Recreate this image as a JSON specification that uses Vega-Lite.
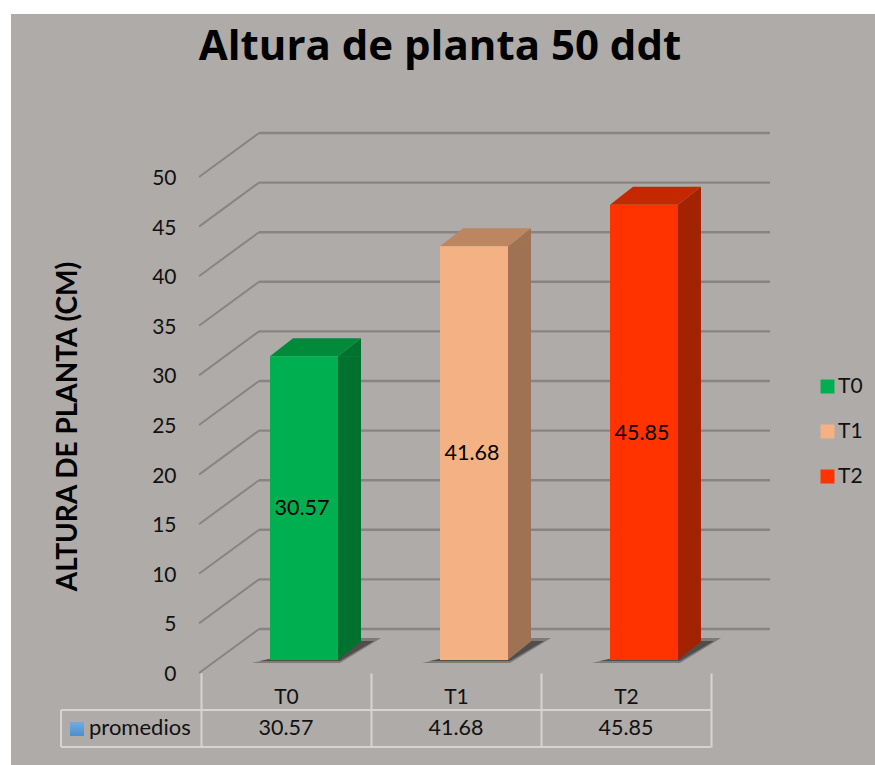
{
"$schema":"https://vega.github.io/schema/vega-lite/v6.json",
"width":510,"height":496,
"autosize":{"type":"none"},
"padding":{"left":201,"top":177,"right":164,"bottom":92},
"background":"#FFFFFF",
"title":{"text":"Altura de planta 50  ddt","anchor":"middle","dx":-16,"offset":-55,"font":"Open Sans","fontSize":42,"fontWeight":"bold","color":"#000000"},
"config":{"view":{"stroke":null},"font":"Lato"},
"datasets":{
"bars":[{"cat":"T0","promedio":30.57},{"cat":"T1","promedio":41.68},{"cat":"T2","promedio":45.85}],
"ticks":[{"tick":0},{"tick":5},{"tick":10},{"tick":15},{"tick":20},{"tick":25},{"tick":30},{"tick":35},{"tick":40},{"tick":45},{"tick":50}],
"serie":[{"serie":"promedios"}]
},
"resolve":{"scale":{"color":"independent"}},
"layer":[
{"data":{"name":"serie"},"mark":{"type":"rect","fill":"#AFABA9","xOffset":-275,"x2Offset":249,"yOffset":92,"y2Offset":-163},
 "encoding":{"x":{"datum":"T0","type":"nominal","scale":{"domain":["T0","T1","T2"],"paddingInner":0,"paddingOuter":0},
   "axis":{"title":null,"domain":false,"labelAngle":0,"tickBand":"extent","tickSize":74,"tickWidth":2,"tickColor":"#D6D4D2","labelPadding":-50,"labelBaseline":"middle","labelFontSize":21,"labelColor":"#111111","labelFont":"Lato","grid":false,"zindex":1}},
  "x2":{"datum":"T2"},
  "y":{"datum":0,"type":"quantitative","scale":{"domain":[0,50],"nice":false,"zero":false},
   "axis":{"title":"ALTURA DE PLANTA (CM)","values":[0,5,10,15,20,25,30,35,40,45,50],"domain":false,"ticks":false,"grid":false,"labelPadding":25,"labelOffset":1.5,"labelFontSize":21,"labelColor":"#111111","labelFont":"Lato","titleFont":"Lato","titleFontSize":28,"titleFontWeight":"bold","titleColor":"#000000","titleAngle":-90,"titleX":-133,"titleY":249,"titleBaseline":"middle","zindex":1}},
  "y2":{"datum":50}}},
{"data":{"name":"ticks"},"mark":{"type":"rule","color":"#878583","strokeWidth":2,"xOffset":-87,"x2Offset":-27,"y2Offset":-44},
 "encoding":{"x":{"datum":"T0","type":"nominal"},"x2":{"datum":"T0"},"y":{"field":"tick","type":"quantitative"},"y2":{"field":"tick"}}},
{"data":{"name":"ticks"},"mark":{"type":"rule","color":"#878583","strokeWidth":2.4,"xOffset":-27,"x2Offset":144,"yOffset":-44},
 "encoding":{"x":{"datum":"T0","type":"nominal"},"x2":{"datum":"T2"},"y":{"field":"tick","type":"quantitative"}}},
{"data":{"name":"bars"},"mark":{"type":"point","filled":true,"opacity":1,"size":4,"fill":"#7E7B79","shape":"M-52,3L36,3L77,-22L55,-22Z","xOffset":18,"yOffset":-13},
 "encoding":{"x":{"field":"cat","type":"nominal"},"y":{"datum":0,"type":"quantitative"}}},
{"data":{"name":"bars"},"mark":{"type":"point","filled":true,"opacity":1,"size":4,"fill":"#504E4D","shape":"M-44,1L36,1L70,-19L50,-19Z","xOffset":18,"yOffset":-13},
 "encoding":{"x":{"field":"cat","type":"nominal"},"y":{"datum":0,"type":"quantitative"}}},
{"data":{"name":"bars"},"mark":{"type":"bar","width":23,"xOffset":63.5,"yOffset":-13.4,"y2Offset":-31},
 "encoding":{"x":{"field":"cat","type":"nominal"},"y":{"field":"promedio","type":"quantitative"},"y2":{"datum":0},
  "color":{"field":"cat","type":"nominal","legend":null,"scale":{"domain":["T0","T1","T2"],"range":["#00722F","#9E7252","#A32200"]}}}},
{"data":{"name":"bars"},"mark":{"type":"point","filled":true,"opacity":1,"size":4,"shape":"M0,0L23,-18L23,0.5L0,0.5Z","xOffset":52,"yOffset":-13.4},
 "encoding":{"x":{"field":"cat","type":"nominal"},"y":{"field":"promedio","type":"quantitative"},
  "color":{"field":"cat","type":"nominal","legend":null,"scale":{"domain":["T0","T1","T2"],"range":["#00722F","#9E7252","#A32200"]}}}},
{"data":{"name":"bars"},"mark":{"type":"point","filled":true,"opacity":1,"size":4,"shape":"M0,0L23,-18.5L0,-18.5Z","xOffset":52,"yOffset":-13},
 "encoding":{"x":{"field":"cat","type":"nominal"},"y":{"datum":0,"type":"quantitative"},
  "color":{"field":"cat","type":"nominal","legend":null,"scale":{"domain":["T0","T1","T2"],"range":["#00722F","#9E7252","#A32200"]}}}},
{"data":{"name":"bars"},"mark":{"type":"point","filled":true,"opacity":1,"size":4,"shape":"M0,0L23,-18L91,-18L68,0Z","xOffset":-16,"yOffset":-13.4},
 "encoding":{"x":{"field":"cat","type":"nominal"},"y":{"field":"promedio","type":"quantitative"},
  "color":{"field":"cat","type":"nominal","legend":null,"scale":{"domain":["T0","T1","T2"],"range":["#008A3A","#BC8660","#C42800"]}}}},
{"data":{"name":"bars"},"mark":{"type":"bar","width":68,"xOffset":18,"yOffset":-13.4,"y2Offset":-13},
 "encoding":{"x":{"field":"cat","type":"nominal"},"y":{"field":"promedio","type":"quantitative"},"y2":{"datum":0},
  "color":{"field":"cat","type":"nominal","title":null,"scale":{"domain":["T0","T1","T2"],"range":["#00B050","#F4B183","#FF3300"]},
   "legend":{"orient":"none","legendX":616,"legendY":199,"symbolType":"square","symbolSize":196,"symbolStrokeWidth":0,"symbolOpacity":1,"labelFontSize":21,"labelFont":"Lato","labelColor":"#111111","rowPadding":23,"labelOffset":0,"title":null}}}},
{"data":{"name":"bars"},"transform":[{"stack":"promedio","groupby":["cat"],"as":["desde","hasta"]},{"fold":["desde","hasta"],"as":["extremo","nivel"]}],
 "mark":{"type":"text","fontSize":21.5,"font":"Lato","color":"#000000","xOffset":16,"yOffset":-12,"baseline":"middle"},
 "encoding":{"x":{"field":"cat","type":"nominal"},"y":{"aggregate":"mean","field":"nivel","type":"quantitative"},"text":{"field":"promedio","type":"quantitative","format":".2f"}}},
{"data":{"name":"bars"},"mark":{"type":"text","fontSize":21.5,"font":"Lato","color":"#111111","yOffset":56,"baseline":"middle"},
 "encoding":{"x":{"field":"cat","type":"nominal"},"y":{"datum":0,"type":"quantitative"},"text":{"field":"promedio","type":"quantitative","format":".2f"}}},
{"data":{"name":"serie"},"mark":{"type":"rule","color":"#D6D4D2","strokeWidth":2,"xOffset":-225,"x2Offset":85,"yOffset":37},
 "encoding":{"x":{"datum":"T0","type":"nominal"},"x2":{"datum":"T2"},"y":{"datum":0,"type":"quantitative"}}},
{"data":{"name":"serie"},"mark":{"type":"rule","color":"#D6D4D2","strokeWidth":2,"xOffset":-225,"x2Offset":85,"yOffset":74},
 "encoding":{"x":{"datum":"T0","type":"nominal"},"x2":{"datum":"T2"},"y":{"datum":0,"type":"quantitative"}}},
{"data":{"name":"serie"},"mark":{"type":"rule","color":"#D6D4D2","strokeWidth":2,"xOffset":-225,"yOffset":37,"y2Offset":74},
 "encoding":{"x":{"datum":"T0","type":"nominal"},"y":{"datum":0,"type":"quantitative"},"y2":{"datum":0}}},
{"data":{"name":"serie"},"mark":{"type":"point","filled":true,"opacity":1,"shape":"square","size":196,"xOffset":-209,"yOffset":56,"fill":{"gradient":"linear","x1":0,"y1":0,"x2":0,"y2":1,"stops":[{"offset":0,"color":"#74ABE0"},{"offset":1,"color":"#4A8FD0"}]}},
 "encoding":{"x":{"datum":"T0","type":"nominal"},"y":{"datum":0,"type":"quantitative"}}},
{"data":{"name":"serie"},"mark":{"type":"text","align":"left","baseline":"middle","fontSize":22,"font":"Lato","color":"#111111","xOffset":-197,"yOffset":55},
 "encoding":{"x":{"datum":"T0","type":"nominal"},"y":{"datum":0,"type":"quantitative"},"text":{"field":"serie","type":"nominal"}}}
]
}
